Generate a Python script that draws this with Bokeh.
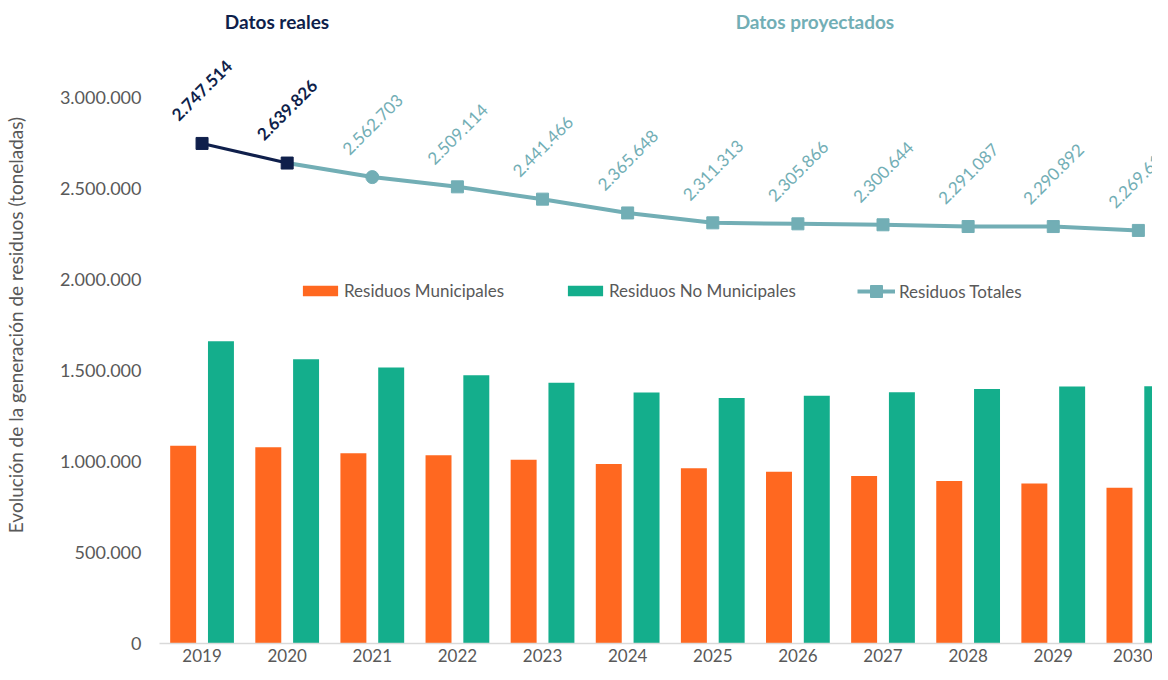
from bokeh.plotting import figure
from bokeh.models import (ColumnDataSource, FixedTicker, Legend, LegendItem, Label, Range1d)
from bokeh.transform import dodge
from bokeh.embed import file_html
from bokeh.resources import INLINE
from bokeh.core.properties import value
import math

# ---- data ----
years = ["2019", "2020", "2021", "2022", "2023", "2024", "2025", "2026", "2027", "2028", "2029", "2030"]
municipales = [1087000, 1078000, 1046000, 1035000, 1009000, 986000, 963000, 944000, 920000, 893000, 879000, 856000]
no_municipales = [1660500, 1561800, 1516700, 1474100, 1432500, 1379600, 1348300, 1361900, 1380600, 1398100, 1411900, 1413600]
totales = [2747514, 2639826, 2562703, 2509114, 2441466, 2365648, 2311313, 2305866, 2300644, 2291087, 2290892, 2269618]
reales_n = 2  # first two years are real data
y_ticks = [0, 500000, 1000000, 1500000, 2000000, 2500000, 3000000]

def fmt(v):
    return f"{v:,}".replace(",", ".")

idx = list(range(len(years)))
src = ColumnDataSource(dict(idx=idx, mun=municipales, nomun=no_municipales, tot=totales,
                            lab=[fmt(v) for v in totales]))
real_src = ColumnDataSource(dict(idx=idx[:reales_n], tot=totales[:reales_n],
                                 lab=[fmt(v) for v in totales[:reales_n]]))
proj_src = ColumnDataSource(dict(idx=idx[reales_n - 1:], tot=totales[reales_n - 1:]))
lab_proj_src = ColumnDataSource(dict(idx=idx[reales_n:], tot=totales[reales_n:],
                                     lab=[fmt(v) for v in totales[reales_n:]]))
circ_src = ColumnDataSource(dict(idx=idx[reales_n:reales_n + 1], tot=totales[reales_n:reales_n + 1]))
sq_src = ColumnDataSource(dict(idx=idx[reales_n + 1:], tot=totales[reales_n + 1:]))

ORANGE = "#FF6820"
GREEN = "#14AE8C"
TEAL = "#72AEB5"
NAVY = "#0F1F4B"
GRAY = "#595959"
FONT = "Lato"

p = figure(width=1152, height=664, x_range=Range1d(-0.5, 11.166), y_range=Range1d(0, 3500000),
           output_backend="svg", toolbar_location=None, min_border_left=157, min_border_top=6,
           min_border_right=0, min_border_bottom=0, outline_line_color=None)
p.xgrid.visible = False
p.ygrid.visible = False

# bars
r_mun = p.vbar(x=dodge("idx", -0.222), top="mun", width=0.305, source=src, fill_color=ORANGE, line_color=None)
r_nomun = p.vbar(x=dodge("idx", 0.222), top="nomun", width=0.305, source=src, fill_color=GREEN, line_color=None)

# total line
p.line("idx", "tot", source=real_src, line_color=NAVY, line_width=3)
r_line = p.line("idx", "tot", source=proj_src, line_color=TEAL, line_width=4)
p.scatter("idx", "tot", source=real_src, marker="square", size=12, fill_color=NAVY, line_color=NAVY)
p.scatter("idx", "tot", source=circ_src, marker="circle", size=13, fill_color=TEAL, line_color=TEAL)
r_sq = p.scatter("idx", "tot", source=sq_src, marker="square", size=12, fill_color=TEAL, line_color=TEAL)

# value labels
p.text("idx", "tot", text="lab", source=real_src, angle=math.pi / 4, y_offset=-53,
       text_align="center", text_baseline="middle", text_font=value(FONT), text_font_size="17px",
       text_font_style="bold", text_color=NAVY)
p.text("idx", "tot", text="lab", source=lab_proj_src, angle=math.pi / 4, y_offset=-53,
       text_align="center", text_baseline="middle", text_font=value(FONT), text_font_size="17px",
       text_color=TEAL)

# section titles
p.add_layout(Label(x=0.88, y=3420000, text="Datos reales", text_align="center", text_baseline="middle",
                   text_font=FONT, text_font_size="19px", text_font_style="bold", text_color=NAVY))
p.add_layout(Label(x=7.2, y=3420000, text="Datos proyectados", text_align="center", text_baseline="middle",
                   text_font=FONT, text_font_size="19px", text_font_style="bold", text_color=TEAL))

# axes
p.xaxis.ticker = FixedTicker(ticks=idx)
p.xaxis.major_label_overrides = {i: y for i, y in zip(idx, years)}
p.xaxis.axis_line_color = "#D9D9D9"
p.xaxis.axis_line_width = 1.5
p.xaxis.major_tick_line_color = None
p.xaxis.minor_tick_line_color = None
p.xaxis.major_tick_out = 0
p.xaxis.major_label_standoff = 5
p.xaxis.major_label_text_font = FONT
p.xaxis.major_label_text_font_size = "17px"
p.xaxis.major_label_text_color = GRAY

p.yaxis.ticker = FixedTicker(ticks=y_ticks)
p.yaxis.major_label_overrides = {t: fmt(t) for t in y_ticks}
p.yaxis.axis_line_color = None
p.yaxis.major_tick_line_color = None
p.yaxis.minor_tick_line_color = None
p.yaxis.major_tick_out = 0
p.yaxis.major_label_standoff = 18
p.yaxis.major_label_text_font = FONT
p.yaxis.major_label_text_font_size = "18px"
p.yaxis.major_label_text_color = GRAY
p.yaxis.axis_label = "Evolución de la generación de residuos (toneladas)"
p.yaxis.axis_label_text_font = FONT
p.yaxis.axis_label_text_font_size = "19px"
p.yaxis.axis_label_text_font_style = "normal"
p.yaxis.axis_label_text_color = GRAY
p.yaxis.axis_label_standoff = 30

# legends (one per item for exact placement)
def add_legend(label, renderers, loc, gw, gh, standoff):
    lg = Legend(items=[LegendItem(label=label, renderers=renderers)], location=loc,
                orientation="horizontal", padding=0, margin=0, border_line_color=None,
                background_fill_alpha=0, glyph_width=gw, glyph_height=gh, label_standoff=standoff,
                label_text_font=FONT, label_text_font_size="17px", label_text_color=GRAY)
    p.add_layout(lg)

add_legend("Residuos Municipales", [r_mun], (139, 342), 44, 13, 2)
add_legend("Residuos No Municipales", [r_nomun], (404, 342), 44, 13, 2)
add_legend("Residuos Totales", [r_line, r_sq], (698, 337), 38, 30, 4)

open("out.html", "w").write(file_html(p, INLINE))
